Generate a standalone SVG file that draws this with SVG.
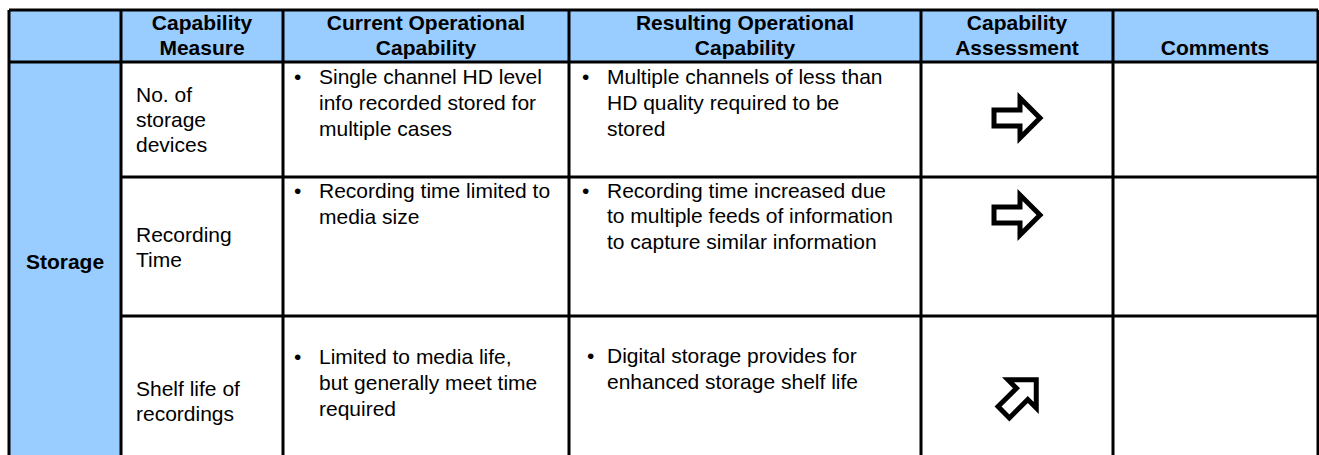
<svg xmlns="http://www.w3.org/2000/svg" width="1319" height="455" viewBox="0 0 1319 455">
<style>
.hd{font-family:"Liberation Sans",Arial,sans-serif;font-size:21px;font-weight:bold;fill:#000;text-anchor:middle}
.tx{font-family:"Liberation Sans",Arial,sans-serif;font-size:21px;fill:#000}
.ln{stroke:#000;stroke-width:3;fill:none}
.arr{fill:#fff;stroke:#000;stroke-width:5;stroke-linejoin:miter}
</style>
<defs>
<path id="rarrow" d="M-23,-8 H3 V-20 L23,0 L3,20 V8 H-23 Z"/>
</defs>
<rect width="1319" height="455" fill="#fff"/>
<g id="fills">
<rect x="9" y="10" width="1309" height="52" fill="#99CCFF"/>
<rect x="9" y="62" width="112" height="393" fill="#99CCFF"/>
</g>
<g id="grid">
<line class="ln" x1="9" y1="10" x2="1318" y2="10"/>
<line class="ln" x1="9" y1="62" x2="1318" y2="62"/>
<line class="ln" x1="121" y1="177" x2="1318" y2="177"/>
<line class="ln" x1="121" y1="316" x2="1318" y2="316"/>
<line class="ln" x1="9" y1="10" x2="9" y2="455"/>
<line class="ln" x1="121" y1="10" x2="121" y2="455"/>
<line class="ln" x1="283" y1="10" x2="283" y2="455"/>
<line class="ln" x1="569" y1="10" x2="569" y2="455"/>
<line class="ln" x1="921" y1="10" x2="921" y2="455"/>
<line class="ln" x1="1113" y1="10" x2="1113" y2="455"/>
<line class="ln" x1="1318" y1="10" x2="1318" y2="455"/>
</g>
<g id="header">
<text class="hd" x="202" y="30">Capability</text>
<text class="hd" x="202" y="55">Measure</text>
<text class="hd" x="426" y="30">Current Operational</text>
<text class="hd" x="426" y="55">Capability</text>
<text class="hd" x="745" y="30">Resulting Operational</text>
<text class="hd" x="745" y="55">Capability</text>
<text class="hd" x="1017" y="30">Capability</text>
<text class="hd" x="1017" y="55">Assessment</text>
<text class="hd" x="1215" y="55">Comments</text>
</g>
<g id="storage">
<text class="hd" x="65" y="269">Storage</text>
</g>
<g id="row1">
<text class="tx" x="136" y="102">No. of</text>
<text class="tx" x="136" y="127">storage</text>
<text class="tx" x="136" y="152">devices</text>
<text class="tx" x="294" y="84">•</text>
<text class="tx" x="319" y="84">Single channel HD level</text>
<text class="tx" x="319" y="110">info recorded stored for</text>
<text class="tx" x="319" y="136">multiple cases</text>
<text class="tx" x="582" y="84">•</text>
<text class="tx" x="607" y="84">Multiple channels of less than</text>
<text class="tx" x="607" y="110">HD quality required to be</text>
<text class="tx" x="607" y="136">stored</text>
<use href="#rarrow" class="arr" transform="translate(1017,118)"/>
</g>
<g id="row2">
<text class="tx" x="136" y="242">Recording</text>
<text class="tx" x="136" y="267">Time</text>
<text class="tx" x="294" y="198">•</text>
<text class="tx" x="319" y="198">Recording time limited to</text>
<text class="tx" x="319" y="224">media size</text>
<text class="tx" x="582" y="198">•</text>
<text class="tx" x="607" y="198">Recording time increased due</text>
<text class="tx" x="607" y="223">to multiple feeds of information</text>
<text class="tx" x="607" y="249">to capture similar information</text>
<use href="#rarrow" class="arr" transform="translate(1017,215)"/>
</g>
<g id="row3">
<text class="tx" x="136" y="396">Shelf life of</text>
<text class="tx" x="136" y="421">recordings</text>
<text class="tx" x="294" y="364">•</text>
<text class="tx" x="319" y="364">Limited to media life,</text>
<text class="tx" x="319" y="390">but generally meet time</text>
<text class="tx" x="319" y="416">required</text>
<text class="tx" x="587" y="363">•</text>
<text class="tx" x="607" y="363">Digital storage provides for</text>
<text class="tx" x="607" y="389">enhanced storage shelf life</text>
<use href="#rarrow" class="arr" transform="translate(1020,396) rotate(-45)"/>
</g>
</svg>
